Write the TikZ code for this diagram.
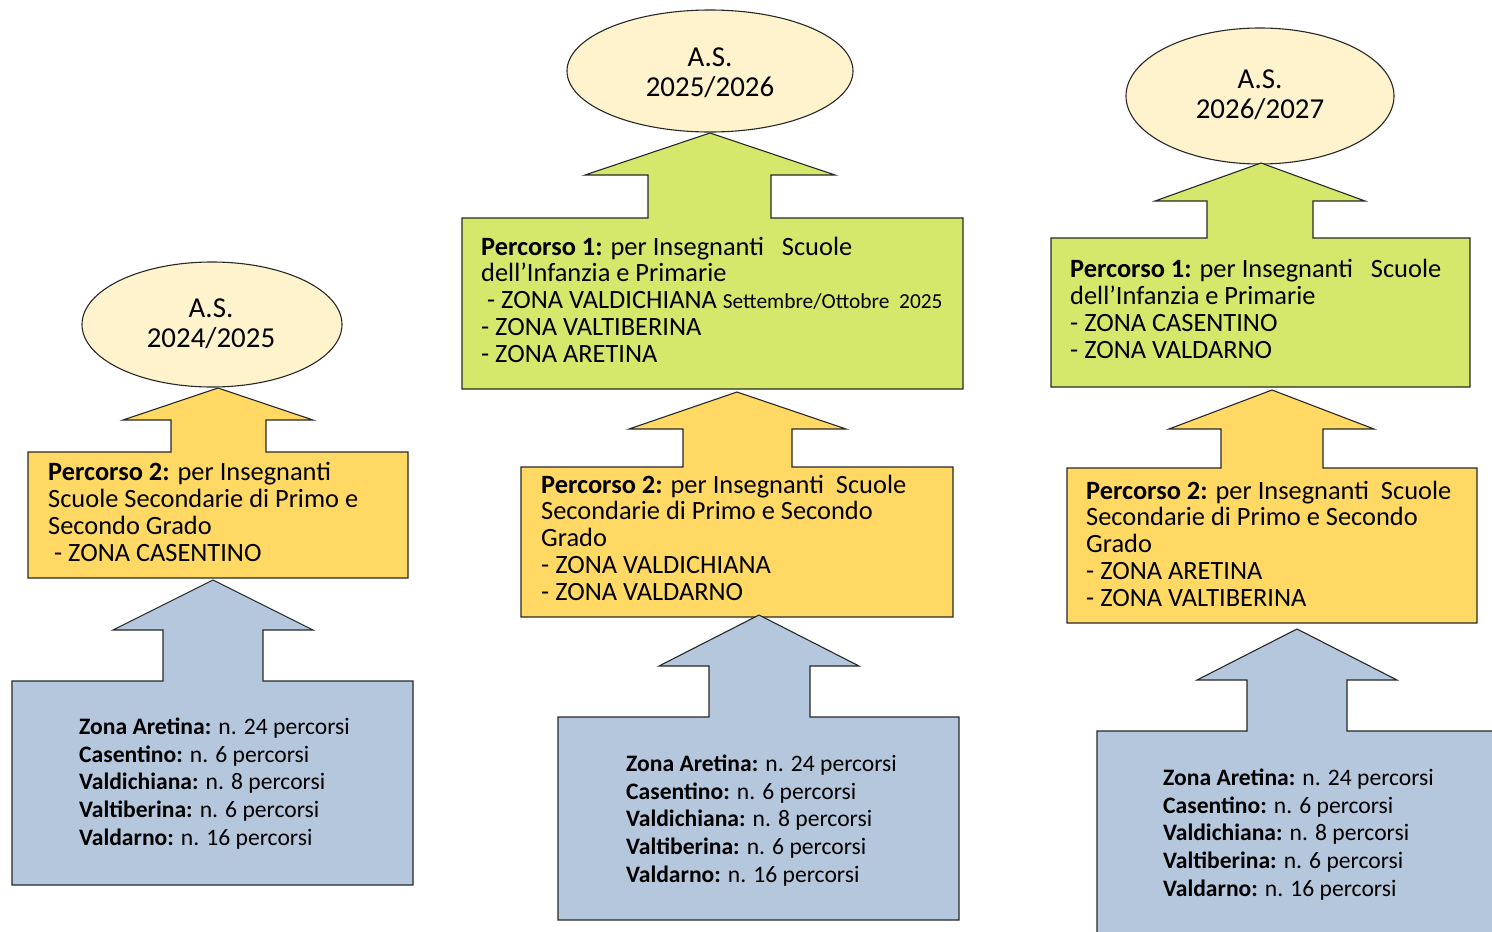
\documentclass[tikz,border=0pt]{standalone}
\usepackage{fontspec}
\setmainfont{Carlito}
\definecolor{cream}{RGB}{255,243,205}
\definecolor{lgreen}{RGB}{213,232,108}
\definecolor{lyellow}{RGB}{255,217,100}
\definecolor{lblue}{RGB}{180,199,220}
\definecolor{edge}{RGB}{40,40,40}
\tikzset{
  shapeline/.style={draw=edge, line width=1.1pt, line join=miter},
  yeartxt/.style={align=center, inner sep=0pt, anchor=base, font=\fontsize{28.9}{30}\selectfont},
  txt/.style={align=left, inner sep=0pt, anchor=base west, font=\fontsize{26.4}{26.7}\selectfont},
  bluetxt/.style={align=left, inner sep=0pt, anchor=base west, font=\fontsize{23.6}{27.6}\selectfont},
}
\begin{document}
\begin{tikzpicture}[x=1pt,y=-1pt]
\useasboundingbox (0,0) rectangle (1492,932);
\clip (0,0) rectangle (1492,932);
% ---------- left column ----------
\draw[shapeline, fill=cream] (212,324.5) ellipse [x radius=130, y radius=62.5];
\node[yeartxt] (y1) at (211,347) {A.S.\\2024/2025};
\draw[shapeline, fill=lyellow] (28,452) -- (171,452) -- (171,420) -- (123,420) -- (218,388) -- (313,420) -- (266,420) -- (266,452) -- (408,452) -- (408,578) -- (28,578) -- cycle;
\node[txt] (p2a) at (48,561) {\textbf{Percorso 2:} per Insegnanti\\Scuole Secondarie di Primo e\\Secondo Grado\\\hspace*{6pt}- ZONA CASENTINO};
\draw[shapeline, fill=lblue] (12,681) -- (163,681) -- (163,630) -- (113,630) -- (213,580) -- (313,630) -- (263,630) -- (263,681) -- (413,681) -- (413,885) -- (12,885) -- cycle;
\node[bluetxt] (za) at (79,845) {\textbf{Zona Aretina:} n. 24 percorsi\\\textbf{Casentino:} n. 6 percorsi\\\textbf{Valdichiana:} n. 8 percorsi\\\textbf{Valtiberina:} n. 6 percorsi\\\textbf{Valdarno:} n. 16 percorsi};
% ---------- middle column ----------
\draw[shapeline, fill=cream] (710,71) ellipse [x radius=143, y radius=61];
\node[yeartxt] (y2) at (710,96) {A.S.\\2025/2026};
\draw[shapeline, fill=lgreen] (462,218) -- (648,218) -- (648,175) -- (585,175) -- (710,133) -- (835,175) -- (771,175) -- (771,218) -- (963,218) -- (963,389) -- (462,389) -- cycle;
\node[txt] (p1b) at (481,362) {\textbf{Percorso 1:} per Insegnanti\ \ \ Scuole\\dell’Infanzia e Primarie\\\hspace*{6pt}- ZONA VALDICHIANA {\fontsize{21.4}{26.7}\selectfont Settembre/Ottobre\ \ 2025}\\- ZONA VALTIBERINA\\- ZONA ARETINA};
\draw[shapeline, fill=lyellow] (521,467) -- (683,467) -- (683,429) -- (629,429) -- (737,392) -- (846,429) -- (792,429) -- (792,467) -- (953,467) -- (953,617) -- (521,617) -- cycle;
\node[txt] (p2b) at (541,600) {\textbf{Percorso 2:} per Insegnanti\ \ Scuole\\Secondarie di Primo e Secondo\\Grado\\- ZONA VALDICHIANA\\- ZONA VALDARNO};
\draw[shapeline, fill=lblue] (558,717) -- (709,717) -- (709,666) -- (659,666) -- (759,615) -- (859,666) -- (810,666) -- (810,717) -- (959,717) -- (959,920) -- (558,920) -- cycle;
\node[bluetxt] (zb) at (626,882) {\textbf{Zona Aretina:} n. 24 percorsi\\\textbf{Casentino:} n. 6 percorsi\\\textbf{Valdichiana:} n. 8 percorsi\\\textbf{Valtiberina:} n. 6 percorsi\\\textbf{Valdarno:} n. 16 percorsi};
% ---------- right column ----------
\draw[shapeline, fill=cream] (1260,96) ellipse [x radius=134, y radius=68];
\node[yeartxt] (y3) at (1260,118) {A.S.\\2026/2027};
\draw[shapeline, fill=lgreen] (1051,238) -- (1207,238) -- (1207,201) -- (1155,201) -- (1261,163) -- (1365,201) -- (1313,201) -- (1313,238) -- (1470,238) -- (1470,387) -- (1051,387) -- cycle;
\node[txt] (p1c) at (1070,358) {\textbf{Percorso 1:} per Insegnanti\ \ \ Scuole\\dell’Infanzia e Primarie\\- ZONA CASENTINO\\- ZONA VALDARNO};
\draw[shapeline, fill=lyellow] (1067,468) -- (1221,468) -- (1221,429) -- (1169,429) -- (1272,390) -- (1374,429) -- (1323,429) -- (1323,468) -- (1477,468) -- (1477,623) -- (1067,623) -- cycle;
\node[txt] (p2c) at (1086,606) {\textbf{Percorso 2:} per Insegnanti\ \ Scuole\\Secondarie di Primo e Secondo\\Grado\\- ZONA ARETINA\\- ZONA VALTIBERINA};
\draw[shapeline, fill=lblue] (1097,731) -- (1247,731) -- (1247,680) -- (1197,680) -- (1297,629) -- (1397,680) -- (1347,680) -- (1347,731) -- (1500,731) -- (1500,940) -- (1097,940) -- cycle;
\node[bluetxt] (zc) at (1163,896) {\textbf{Zona Aretina:} n. 24 percorsi\\\textbf{Casentino:} n. 6 percorsi\\\textbf{Valdichiana:} n. 8 percorsi\\\textbf{Valtiberina:} n. 6 percorsi\\\textbf{Valdarno:} n. 16 percorsi};
\end{tikzpicture}
\end{document}
